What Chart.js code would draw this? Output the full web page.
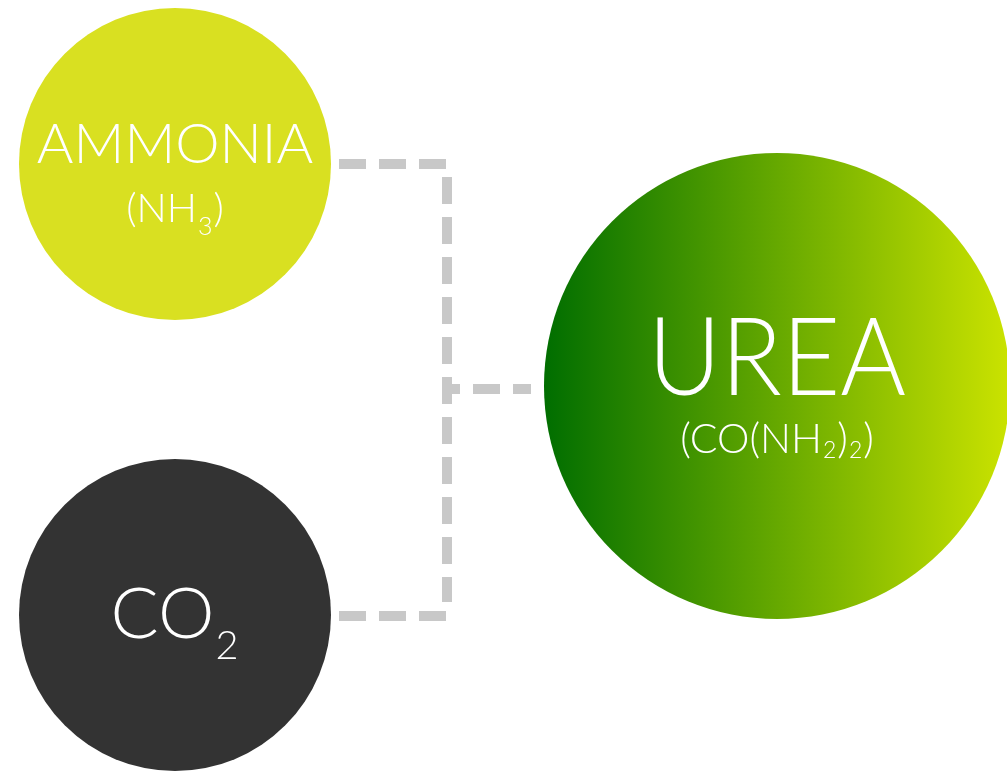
<!DOCTYPE html>
<html>
<head>
<meta charset="utf-8">
<script src="https://cdn.jsdelivr.net/npm/chart.js@4/dist/chart.umd.min.js"></script>
<style>
  html, body { margin: 0; padding: 0; background: #fff; }
  #wrap { width: 1007px; height: 772px; position: relative; }
</style>
</head>
<body>
<div id="wrap"><canvas id="myChart"></canvas></div>
<script>
// nodes of the diagram
const nodeNames = ['AMMONIA', 'CO2', 'UREA'];
const nodeX = [175, 175, 777];
const nodeY = [164, 615, 386];
const nodeR = [156, 156, 233];

// label parts: [text, isSubscript]
const nameParts = [
    [['AMMONIA', false]],
    [['CO', false], ['2', true]],
    [['UREA', false]],
];
const formulaParts = [
    [['(NH', false], ['3', true], [')', false]],
    [],
    [['(CO(NH', false], ['2', true], [')', false], ['2', true], [')', false]],
];

// dashed connectors
const linkTopX = [339, 447];
const linkTopY = [164, 164];
const linkVertX = [447, 447];
const linkVertY = [177, 602];
const linkBottomX = [339, 447];
const linkBottomY = [616, 616];
const linkMidX = [442, 531];
const linkMidY = [389, 389];

const toPoints = (xs, ys) => xs.map((x, i) => ({ x: x, y: ys[i] }));

const dashed = (xs, ys, offset) => ({
    type: 'line',
    data: toPoints(xs, ys),
    borderColor: '#c8c8c8', // grey connector
    borderWidth: 10,
    borderDash: [27, 13],
    borderDashOffset: offset || 0,
    pointRadius: 0,
    fill: false,
    order: 2,
});

const FONT = '"Lato", "DejaVu Sans", sans-serif';

// draws a row of text pieces with subscripts, centred on cx
function drawParts(ctx, parts, cx, baseline, size, subSize, subDrop, sx) {
    sx = sx || 1;
    let total = 0;
    const widths = parts.map(([t, sub]) => {
        ctx.font = '300 ' + (sub ? subSize : size) + 'px ' + FONT;
        const w = ctx.measureText(t).width + (sub ? 2 : 0);
        total += w;
        return w;
    });
    ctx.save();
    ctx.translate(cx, 0);
    ctx.scale(sx, 1);
    let x = -total / 2;
    parts.forEach(([t, sub], i) => {
        ctx.font = '300 ' + (sub ? subSize : size) + 'px ' + FONT;
        ctx.fillText(t, x + (sub ? 1 : 0), baseline + (sub ? subDrop : 0));
        x += widths[i];
    });
    ctx.restore();
}

const labelStyle = [
    { nameSize: 56, nameBase: -1, nameSub: 0, nameDrop: 0, nameSx: 1, fSize: 40, fBase: 58, fSub: 25, fDrop: 13 },
    { nameSize: 70, nameBase: 23, nameSub: 39, nameDrop: 21, nameSx: 1.02, fSize: 0, fBase: 0, fSub: 0, fDrop: 0 },
    { nameSize: 108, nameBase: 9, nameSub: 0, nameDrop: 0, nameSx: 0.93, fSize: 41, fBase: 67, fSub: 23, fDrop: 5 },
];

const labelPlugin = {
    id: 'nodeLabels',
    afterDatasetsDraw(chart) {
        const meta = chart.getDatasetMeta(0);
        const ctx = chart.ctx;
        ctx.save();
        ctx.fillStyle = '#ffffff';
        ctx.textAlign = 'left';
        ctx.textBaseline = 'alphabetic';
        meta.data.forEach((el, i) => {
            const s = labelStyle[i];
            drawParts(ctx, nameParts[i], el.x, el.y + s.nameBase, s.nameSize, s.nameSub, s.nameDrop, s.nameSx);
            if (formulaParts[i].length) {
                drawParts(ctx, formulaParts[i], el.x, el.y + s.fBase, s.fSize, s.fSub, s.fDrop);
            }
        });
        ctx.restore();
    },
};

const nodeColors = ['#d9e021', '#333333', null];

new Chart('myChart', {
    type: 'bubble',
    data: {
        labels: nodeNames,
        datasets: [
            {
                label: 'nodes',
                data: nodeX.map((x, i) => ({ x: x, y: nodeY[i], r: nodeR[i] })),
                borderWidth: 0,
                order: 1,
                backgroundColor: (c) => {
                    const i = c.dataIndex;
                    if (c.type !== 'data' || i === undefined) return '#333333';
                    if (nodeColors[i]) return nodeColors[i];
                    // urea: dark green to lime, left to right
                    const sx = c.chart.scales.x;
                    const x0 = sx ? sx.getPixelForValue(nodeX[i] - nodeR[i]) : NaN;
                    const x1 = sx ? sx.getPixelForValue(nodeX[i] + nodeR[i]) : NaN;
                    if (!isFinite(x0) || !isFinite(x1)) return '#5fa800';
                    const g = c.chart.ctx.createLinearGradient(x0, 0, x1, 0);
                    g.addColorStop(0, '#006e00');
                    g.addColorStop(1, '#cbe300');
                    return g;
                },
                hoverRadius: 0,
            },
            dashed(linkTopX, linkTopY),
            dashed(linkVertX, linkVertY),
            dashed(linkBottomX, linkBottomY),
            dashed(linkMidX, linkMidY, 9),
        ],
    },
    options: {
        responsive: true,
        maintainAspectRatio: false,
        animation: false,
        layout: { padding: 0, autoPadding: false },
        plugins: {
            legend: { display: false },
            tooltip: { enabled: false },
        },
        scales: {
            x: { type: 'linear', display: false, min: 0, max: 1007 },
            y: { type: 'linear', display: false, min: 0, max: 772, reverse: true },
        },
    },
    plugins: [labelPlugin],
});
</script>
</body>
</html>
